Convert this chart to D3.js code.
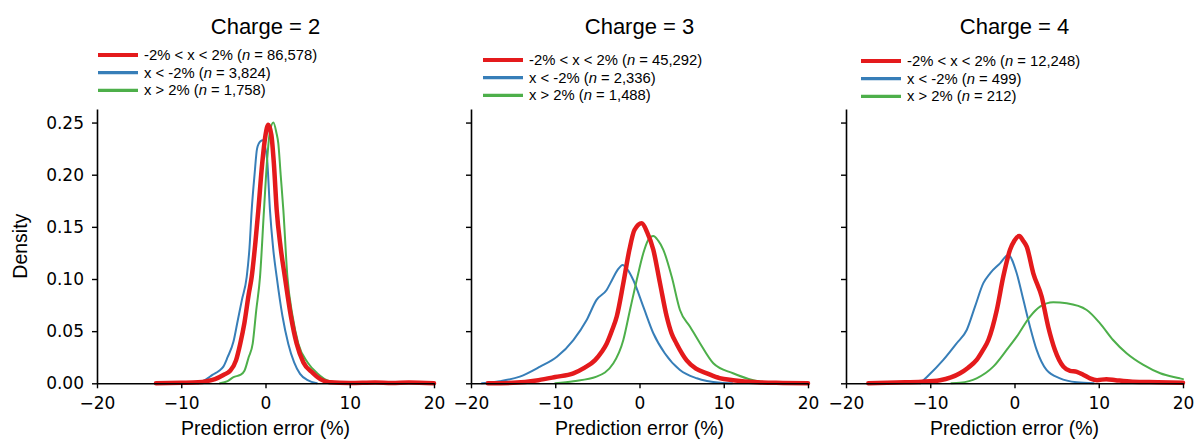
<!DOCTYPE html>
<html>
<head>
<meta charset="utf-8">
<script src="https://cdn.jsdelivr.net/npm/d3@7"></script>
<style>
  body { margin: 0; background: #fff; }
  svg { font-family: "Liberation Sans", Arial, sans-serif; }
</style>
</head>
<body>
<div id="chart"></div>
<script>
// density curves, [prediction error %, density]
const charges = [2, 3, 4];
const seriesNames = ["-2% < x < 2%", "x < -2%", "x > 2%"];
const seriesColors = ["#e41a1c", "#377eb8", "#4daf4a"];
const counts = [["86,578", "3,824", "1,758"], ["45,292", "2,336", "1,488"], ["12,248", "499", "212"]];
const xTicks = [-20, -10, 0, 10, 20];
const yTicks = [0, 0.05, 0.10, 0.15, 0.20, 0.25];

const c2Mid = [[-13,0],[-10,0.0005],[-8,0.001],[-7,0.002],[-6,0.004],[-5,0.008],[-4.2,0.012],[-3.5,0.022],[-3,0.038],[-2.5,0.058],[-2,0.085],[-1.64,0.102],[-1.2,0.135],[-0.85,0.166],[-0.4,0.21],[0,0.238],[0.33,0.248],[0.7,0.238],[1,0.21],[1.33,0.166],[1.8,0.13],[2.3,0.102],[3,0.065],[3.7,0.038],[4.5,0.02],[5.6,0.01],[6.5,0.004],[7.6,0.001],[10,0.0003],[13,0.0008],[15,0.0003],[17,0.0008],[20,0]];
const c2Low = [[-8,0],[-7,0.004],[-6.3,0.008],[-5.5,0.012],[-5,0.016],[-4.5,0.025],[-3.8,0.04],[-3.3,0.06],[-2.8,0.08],[-2.23,0.102],[-1.9,0.13],[-1.64,0.166],[-1.3,0.2],[-1,0.225],[-0.6,0.232],[-0.3,0.233],[0,0.225],[0.2,0.214],[0.53,0.166],[0.9,0.13],[1.33,0.102],[2,0.065],[2.7,0.038],[3.4,0.02],[4.1,0.009],[5,0.003],[6.1,0]];
const c2High = [[-5.4,0],[-4.5,0.002],[-3.8,0.006],[-3,0.008],[-2.5,0.012],[-2,0.025],[-1.52,0.038],[-1.1,0.07],[-0.65,0.102],[-0.18,0.166],[0.2,0.215],[0.5,0.24],[0.93,0.25],[1.3,0.24],[1.52,0.23],[1.8,0.2],[2.12,0.166],[2.6,0.102],[3.2,0.065],[3.9,0.038],[5,0.02],[6.1,0.01],[7.6,0.002],[9,0.0005],[12,0.0003],[17,0.0006],[20,0]];

const c3Mid = [[-18,0],[-15,0.0005],[-12,0.003],[-10,0.006],[-7.85,0.0096],[-6.5,0.015],[-5.3,0.022],[-4.5,0.03],[-3.9,0.038],[-3.3,0.05],[-2.7,0.064],[-1.92,0.096],[-1.2,0.128],[-0.6,0.147],[0.26,0.1535],[0.9,0.145],[1.64,0.128],[2.43,0.096],[3.23,0.064],[3.8,0.048],[4.4,0.038],[5.6,0.022],[6.7,0.014],[8,0.0096],[9.5,0.005],[11.1,0.003],[14,0.001],[17,0.0004],[20,0]];
const c3Low = [[-18.7,0],[-16.6,0.002],[-14.2,0.0064],[-11.8,0.016],[-9.8,0.0255],[-7.85,0.0415],[-6.27,0.0607],[-5.1,0.08],[-3.9,0.0895],[-3.2,0.1],[-2.6,0.1087],[-2,0.1135],[-1.4,0.1087],[-0.74,0.099],[0.45,0.0735],[1.64,0.048],[3,0.0288],[4.8,0.0128],[6.8,0.0048],[9.6,0.0005],[11,0]];
const c3High = [[-10,0],[-7.85,0.002],[-5.1,0.0064],[-3.1,0.0192],[-1.92,0.0415],[-1.13,0.0703],[-0.33,0.099],[0.45,0.1247],[1,0.137],[1.64,0.1413],[2.2,0.137],[2.83,0.128],[3.82,0.1023],[4.8,0.0703],[6,0.0543],[7.18,0.0384],[8.76,0.0192],[11.1,0.0096],[13.5,0.003],[15,0.001],[17,0]];

const c4Mid = [[-17.35,0],[-14,0.0008],[-11,0.0015],[-8.84,0.003],[-6.47,0.0096],[-5.5,0.015],[-4.49,0.0224],[-3.8,0.031],[-3.1,0.0415],[-2.1,0.0703],[-1.33,0.1023],[-0.53,0.128],[0,0.137],[0.57,0.1413],[1,0.137],[1.45,0.131],[2.23,0.1055],[3.23,0.083],[4,0.0543],[4.8,0.032],[5.8,0.016],[6.6,0.012],[7.4,0.011],[8.2,0.008],[8.96,0.0048],[9.8,0.003],[10.9,0.004],[12,0.003],[14,0.0015],[17,0.001],[20,0.0005]];
const c4Low = [[-11.2,0],[-10.4,0.006],[-8.45,0.0224],[-6.86,0.0384],[-5.67,0.0511],[-4.69,0.0735],[-3.7,0.096],[-2.9,0.1055],[-1.72,0.115],[-0.74,0.123],[0.26,0.1055],[1.05,0.08],[1.84,0.0543],[2.63,0.032],[3.8,0.0128],[5.4,0.0048],[7.4,0.001],[9.4,0]];
const c4High = [[-7.5,0],[-6.47,0.0005],[-4.5,0.0048],[-2.52,0.016],[-0.93,0.032],[0.26,0.0447],[1.84,0.064],[3.03,0.0735],[4.6,0.0777],[6.2,0.0767],[8.57,0.0703],[10.15,0.0575],[11.7,0.0415],[13.3,0.0288],[15.3,0.0176],[17.3,0.0096],[19.6,0.0048],[20,0.004]];

const curves = [[c2Mid, c2Low, c2High], [c3Mid, c3Low, c3High], [c4Mid, c4Low, c4High]];

// layout
const W = 1197, H = 443;
const panelLeft = [97, 471, 846];
const panelW = 337;
const plotTop = 109, plotBottom = 383.3;
const legendPos = [{x: 98, y: 55}, {x: 483, y: 60}, {x: 861, y: 61}];
const lineWidths = [4.5, 2, 2];
const tickFont = "'DejaVu Sans', sans-serif";

const svg = d3.select("#chart").append("svg")
  .attr("width", W)
  .attr("height", H);

const y = d3.scaleLinear().domain([0, 0.263]).range([plotBottom, plotTop]);

charges.forEach(function (charge, p) {
  const x = d3.scaleLinear().domain([-20, 20]).range([panelLeft[p], panelLeft[p] + panelW]);
  const g = svg.append("g");

  // curves
  const line = d3.line()
    .x(function (d) { return x(d[0]); })
    .y(function (d) { return y(d[1]); })
    .curve(d3.curveMonotoneX);

  [1, 2, 0].forEach(function (s) {
    g.append("path")
      .datum(curves[p][s])
      .attr("fill", "none")
      .attr("stroke", seriesColors[s])
      .attr("stroke-width", lineWidths[s])
      .attr("stroke-linejoin", "round")
      .attr("stroke-linecap", "round")
      .attr("d", line);
  });

  // x axis
  const xAxis = g.append("g")
    .attr("transform", "translate(0," + plotBottom + ")")
    .call(d3.axisBottom(x).tickValues(xTicks).tickSize(5).tickPadding(9).tickSizeOuter(0));
  xAxis.select(".domain").attr("stroke-width", 1.6);
  xAxis.selectAll(".tick line").attr("stroke-width", 1.4);
  xAxis.selectAll("text").attr("font-size", 17).attr("fill", "#000")
    .attr("font-family", tickFont);

  // y axis
  const yAxis = g.append("g")
    .attr("transform", "translate(" + panelLeft[p] + ",0)")
    .call(d3.axisLeft(y).tickValues(yTicks).tickSize(5).tickPadding(8).tickSizeOuter(0)
      .tickFormat(p === 0 ? d3.format(".2f") : function () { return ""; }));
  yAxis.select(".domain").attr("stroke-width", 1.6);
  yAxis.selectAll(".tick line").attr("stroke-width", 1.4);
  yAxis.selectAll("text").attr("font-size", 17).attr("fill", "#000")
    .attr("font-family", tickFont);

  // x label
  g.append("text")
    .attr("x", panelLeft[p] + panelW / 2)
    .attr("y", 435)
    .attr("text-anchor", "middle")
    .attr("font-size", 19.5)
    .text("Prediction error (%)");

  // title
  g.append("text")
    .attr("x", panelLeft[p] + panelW / 2)
    .attr("y", 34)
    .attr("text-anchor", "middle")
    .attr("font-size", 22)
    .text("Charge = " + charge);

  // legend
  const leg = g.append("g").attr("transform", "translate(" + legendPos[p].x + "," + legendPos[p].y + ")");
  seriesNames.forEach(function (name, s) {
    const row = leg.append("g").attr("transform", "translate(0," + (s * 17.7) + ")");
    row.append("line")
      .attr("x1", 0).attr("x2", 40)
      .attr("stroke", seriesColors[s])
      .attr("stroke-width", s === 0 ? 4 : 3.2);
    const t = row.append("text")
      .attr("x", 46)
      .attr("y", 5)
      .attr("font-size", 14.8);
    t.append("tspan").text(name + " (");
    t.append("tspan").attr("font-style", "italic").text("n");
    t.append("tspan").text(" = " + counts[p][s] + ")");
  });
});

// y label
svg.append("text")
  .attr("transform", "translate(27," + ((plotTop + plotBottom) / 2) + ") rotate(-90)")
  .attr("text-anchor", "middle")
  .attr("font-size", 19.5)
  .text("Density");
</script>
</body>
</html>
